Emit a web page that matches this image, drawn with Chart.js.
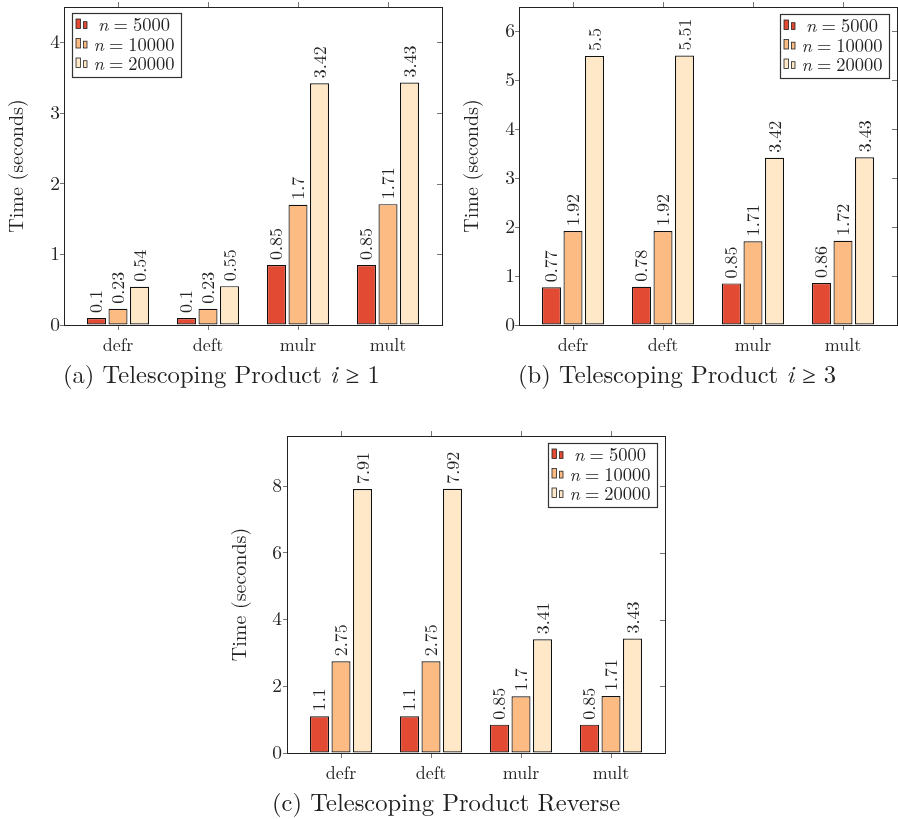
<!DOCTYPE html>
<html>
<head>
<meta charset="utf-8">
<script src="https://cdn.jsdelivr.net/npm/chart.js@4.4.1/dist/chart.umd.min.js"></script>
<style>
  html, body { margin: 0; padding: 0; background: #fff; }
  body { width: 898px; height: 819px; position: relative; overflow: hidden; }
  canvas { position: absolute; }
  .cap { position: absolute; font-family: "Latin Modern Roman", "Liberation Serif", serif; font-size: 24.6px; line-height: 30px; color: #222; white-space: nowrap; }
</style>
</head>
<body>
<canvas id="ca" width="450" height="360" style="left:0px;top:0px"></canvas>
<canvas id="cb" width="448" height="360" style="left:450px;top:0px"></canvas>
<canvas id="cc" width="480" height="365" style="left:200px;top:420px"></canvas>
<div class="cap" style="left:63px;top:358px">(a) Telescoping Product <i>i</i> ≥ 1</div>
<div class="cap" style="left:518px;top:358px">(b) Telescoping Product <i>i</i> ≥ 3</div>
<div class="cap" style="left:272px;top:786px">(c) Telescoping Product Reverse</div>
<script>
// ---------- data ----------
const categories = ['defr', 'deft', 'mulr', 'mult'];
const seriesN = [5000, 10000, 20000];
const seriesColors = ['#e34a33', '#fdbb84', '#fee8c8'];
const yTitle = 'Time (seconds)';

const a5000  = [0.1, 0.1, 0.85, 0.85];
const a10000 = [0.23, 0.23, 1.7, 1.71];
const a20000 = [0.54, 0.55, 3.42, 3.43];

const b5000  = [0.77, 0.78, 0.85, 0.86];
const b10000 = [1.92, 1.92, 1.71, 1.72];
const b20000 = [5.5, 5.51, 3.42, 3.43];

const c5000  = [1.1, 1.1, 0.85, 0.85];
const c10000 = [2.75, 2.75, 1.7, 1.71];
const c20000 = [7.91, 7.92, 3.41, 3.43];

const yMaxA = 4.5, yStepA = 1;
const yMaxB = 6.5, yStepB = 1;
const yMaxC = 9.5, yStepC = 2;

// ---------- helpers ----------
const FONT = '"Latin Modern Roman", "Liberation Serif", serif';
const TXT = '#222';
const AXIS = '#222';

const frameAndLabels = {
  id: 'frameAndLabels',
  afterDatasetsDraw(chart) {
    const ctx = chart.ctx;
    ctx.save();
    ctx.fillStyle = TXT;
    ctx.font = '18px ' + FONT;
    ctx.textAlign = 'left';
    ctx.textBaseline = 'alphabetic';
    chart.data.datasets.forEach((ds, di) => {
      const meta = chart.getDatasetMeta(di);
      meta.data.forEach((el, i) => {
        const v = ds.data[i].y;
        ctx.save();
        ctx.translate(el.x, el.y - 5);
        ctx.rotate(-Math.PI / 2);
        ctx.fillText(String(v), 0, 6);
        ctx.restore();
      });
    });
    ctx.restore();
  },
  afterDraw(chart, args, opts) {
    const ctx = chart.ctx;
    const ca = chart.chartArea;
    ctx.save();
    // frame
    ctx.strokeStyle = AXIS;
    ctx.lineWidth = 1;
    ctx.strokeRect(Math.round(ca.left) + 0.5, Math.round(ca.top) + 0.5,
                   Math.round(ca.right - ca.left), Math.round(ca.bottom - ca.top));
    // top ticks (outside) and right ticks (inside)
    ctx.strokeStyle = '#777';
    const xs = chart.scales.x, ys = chart.scales.y;
    xs.ticks.forEach(t => {
      const px = Math.round(xs.getPixelForValue(t.value)) + 0.5;
      ctx.beginPath(); ctx.moveTo(px, ca.top); ctx.lineTo(px, ca.top - 5); ctx.stroke();
    });
    ys.ticks.forEach(t => {
      const py = Math.round(ys.getPixelForValue(t.value)) + 0.5;
      if (t.value === 0) return;
      ctx.beginPath(); ctx.moveTo(ca.right, py); ctx.lineTo(ca.right - 5, py); ctx.stroke();
    });
    // legend box
    const W = 109, H = 64;
    const bx = opts.side === 'left' ? Math.round(ca.left) + 8 : Math.round(ca.right) - 8 - W;
    const by = Math.round(ca.top) + opts.dy;
    ctx.fillStyle = '#fff';
    ctx.fillRect(bx, by, W, H);
    ctx.strokeStyle = '#333';
    ctx.lineWidth = 1.2;
    ctx.strokeRect(bx + 0.5, by + 0.5, W, H);
    chart.data.datasets.forEach((ds, di) => {
      const cy = by + 12 + di * 19.5;
      ctx.lineWidth = 0.8;
      ctx.strokeStyle = '#222';
      ctx.fillStyle = ds.backgroundColor;
      ctx.fillRect(bx + 4, cy - 6, 4.5, 9.5);
      ctx.strokeRect(bx + 4, cy - 6, 4.5, 9.5);
      ctx.fillRect(bx + 11.5, cy - 3.3, 3.5, 6.8);
      ctx.strokeRect(bx + 11.5, cy - 3.3, 3.5, 6.8);
      // text: italic n = value, centered
      const fI = 'italic 18.5px ' + FONT, fR = '18.5px ' + FONT;
      const num = String(seriesN[di]);
      ctx.font = fI; const wn = ctx.measureText('n').width;
      ctx.font = fR; const we = ctx.measureText('=').width; const wv = ctx.measureText(num).width;
      const gap = 5;
      const total = wn + gap + we + gap + wv;
      let x = bx + 62 - total / 2;
      const base = cy + 6;
      ctx.fillStyle = TXT;
      ctx.textAlign = 'left';
      ctx.textBaseline = 'alphabetic';
      ctx.font = fI; ctx.fillText('n', x, base); x += wn + gap;
      ctx.font = fR; ctx.fillText('=', x, base); x += we + gap;
      ctx.fillText(num, x, base);
    });
    ctx.restore();
  }
};

function makeChart(id, s1, s2, s3, yMax, yStep, cfg) {
  const series = [s1, s2, s3];
  return new Chart(document.getElementById(id), {
    type: 'bar',
    data: {
      datasets: series.map((vals, si) => ({
        label: 'n = ' + seriesN[si],
        data: vals.map((v, i) => ({ x: i, y: v })),
        backgroundColor: seriesColors[si],
        borderColor: '#111',
        borderWidth: 1.2,
        borderSkipped: false,
        categoryPercentage: 0.717,
        barPercentage: 0.884
      }))
    },
    options: {
      responsive: false,
      animation: false,
      devicePixelRatio: 1,
      layout: { padding: { left: 0, right: cfg.padRight, top: cfg.padTop, bottom: 0 } },
      plugins: {
        legend: { display: false },
        tooltip: { enabled: false },
        frameAndLabels: { side: cfg.side, dy: cfg.legendDy }
      },
      scales: {
        x: {
          type: 'linear',
          min: -0.6, max: 3.6,
          offset: false,
          afterBuildTicks: (sc) => { sc.ticks = categories.map((c, i) => ({ value: i })); },
          afterFit: (sc) => { sc.height = cfg.xHeight; sc.paddingLeft = 0; sc.paddingRight = 0; },
          ticks: {
            callback: (v) => categories[v],
            font: { family: FONT, size: 18 },
            color: TXT,
            padding: 5,
            maxRotation: 0,
            autoSkip: false
          },
          grid: { drawOnChartArea: false, offset: false, tickLength: 5, color: '#777' },
          border: { display: true, color: AXIS, width: 1 }
        },
        y: {
          type: 'linear',
          min: 0, max: yMax,
          afterFit: (sc) => { sc.width = cfg.yWidth; sc.paddingTop = 0; sc.paddingBottom = 0; },
          ticks: {
            stepSize: yStep,
            includeBounds: false,
            font: { family: FONT, size: 19.5 },
            color: TXT,
            padding: cfg.yPad
          },
          grid: { drawOnChartArea: false, tickLength: 4, color: '#777' },
          border: { display: true, color: AXIS, width: 1 },
          title: {
            display: true,
            text: yTitle,
            font: { family: FONT, size: 20 },
            color: TXT,
            padding: { top: cfg.titlePad, bottom: 0 }
          }
        }
      }
    },
    plugins: [frameAndLabels]
  });
}

makeChart('ca', a5000, a10000, a20000, yMaxA, yStepA,
  { padRight: 8, padTop: 7, xHeight: 35, yWidth: 64, yPad: 0, titlePad: 5, side: 'left', legendDy: 6 });
makeChart('cb', b5000, b10000, b20000, yMaxB, yStepB,
  { padRight: 1, padTop: 7, xHeight: 35, yWidth: 69, yPad: 0, titlePad: 10, side: 'right', legendDy: 7 });
makeChart('cc', c5000, c10000, c20000, yMaxC, yStepC,
  { padRight: 15, padTop: 16, xHeight: 32, yWidth: 87, yPad: 1, titlePad: 28, side: 'right', legendDy: 7 });
</script>
</body>
</html>
